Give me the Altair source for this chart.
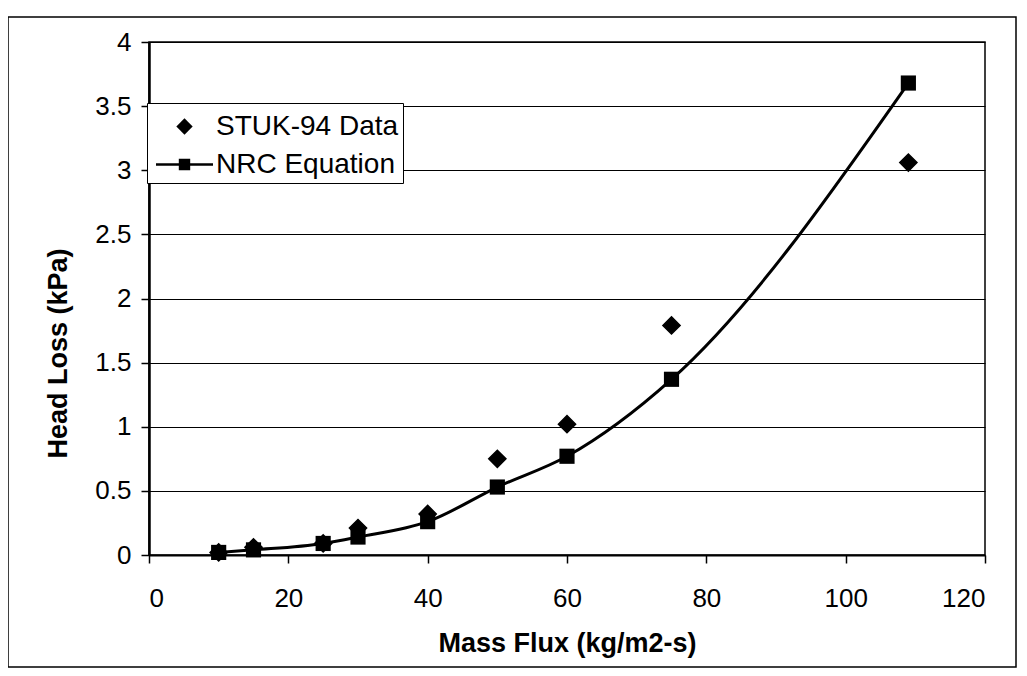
import altair as alt
import pandas as pd

# ---- data ----
mass_flux = [10, 15, 25, 30, 40, 50, 60, 75, 109]
stuk_94 = [0.02, 0.06, 0.09, 0.21, 0.32, 0.75, 1.02, 1.79, 3.06]
nrc_eq = [0.02, 0.04, 0.09, 0.14, 0.26, 0.53, 0.77, 1.37, 3.68]
series_names = ["STUK-94 Data", "NRC Equation"]
x_ticks = [0, 20, 40, 60, 80, 100, 120]
y_ticks = [0, 0.5, 1, 1.5, 2, 2.5, 3, 3.5, 4]

FONT = "Liberation Sans"

stuk_df = pd.DataFrame({"flux": mass_flux, "loss": stuk_94, "series": series_names[0]})
nrc_df = pd.DataFrame({"flux": mass_flux, "loss": nrc_eq, "series": series_names[1]})

diamond_path = "M-0.43,0L0,-0.43L0.43,0L0,0.43Z"
# line (thin filled bar) with a square in its middle, for the legend entry
nrc_legend_path = "M-1.5,-0.07H1.5V0.07H-1.5Z M-0.3,-0.3H0.3V0.3H-0.3Z"

x_enc = alt.X(
    "flux:Q",
    scale=alt.Scale(domain=[0, 120], nice=False),
    axis=alt.Axis(
        values=x_ticks, title="Mass Flux (kg/m2-s)", grid=False,
        labelFont=FONT, labelFontSize=26, labelColor="black", labelPadding=22,
        titleFont=FONT, titleFontSize=27, titleFontWeight="bold", titleColor="black",
        titleY=88, titleBaseline="middle",
        domainColor="black", domainWidth=2, tickColor="black", tickSize=8, tickWidth=1.5,
    ),
)
y_enc = alt.Y(
    "loss:Q",
    scale=alt.Scale(domain=[0, 4], nice=False),
    axis=alt.Axis(
        values=y_ticks, format="~g", title="Head Loss (kPa)", grid=True,
        gridColor="black", gridWidth=1.2, gridOpacity=1,
        labelFont=FONT, labelFontSize=26, labelColor="black", labelPadding=10,
        titleFont=FONT, titleFontSize=27, titleFontWeight="bold", titleColor="black",
        titleX=-91, titleY=311, titleAngle=270, titleAlign="center", titleBaseline="middle",
        domainColor="black", domainWidth=2.5, tickColor="black", tickSize=8, tickWidth=1.5,
    ),
)

diamonds = alt.Chart(stuk_df).mark_point(
    filled=True, size=1600, color="black", stroke="black", strokeWidth=1.5, opacity=1
).encode(
    x=x_enc,
    y=y_enc,
    shape=alt.Shape(
        "series:N",
        scale=alt.Scale(domain=series_names, range=[diamond_path, nrc_legend_path]),
        legend=alt.Legend(
            title=None, orient="none", legendX=-2, legendY=61,
            fillColor="white", strokeColor="black", padding=4, cornerRadius=0,
            symbolSize=1444, symbolOffset=14, labelOffset=12, rowPadding=4,
            symbolFillColor="black", symbolStrokeColor="black", symbolStrokeWidth=1,
            labelFont=FONT, labelFontSize=28, labelColor="black", labelLimit=400,
        ),
    ),
)

line = alt.Chart(nrc_df).mark_line(
    color="black", strokeWidth=3, interpolate="monotone"
).encode(x="flux:Q", y="loss:Q")

squares = alt.Chart(nrc_df).mark_point(
    shape="square", filled=True, size=230, color="black", opacity=1
).encode(x="flux:Q", y="loss:Q")

border = alt.Chart(alt.Data(values=[{"b": 1}])).mark_rect(
    filled=False, stroke="black", strokeWidth=1.5, clip=False
).encode(
    x=alt.value(-141), x2=alt.value(867), y=alt.value(-25), y2=alt.value(625)
)

chart = alt.layer(diamonds, line, squares, border).properties(
    width=836,
    height=513,
    padding={"left": 141, "top": 34, "right": 32, "bottom": 113},
    autosize=alt.AutoSizeParams(type="none"),
    background="white",
).configure_view(stroke="black", strokeWidth=1.5)

chart.save("out.html", embed_options={"renderer": "svg", "actions": False})
